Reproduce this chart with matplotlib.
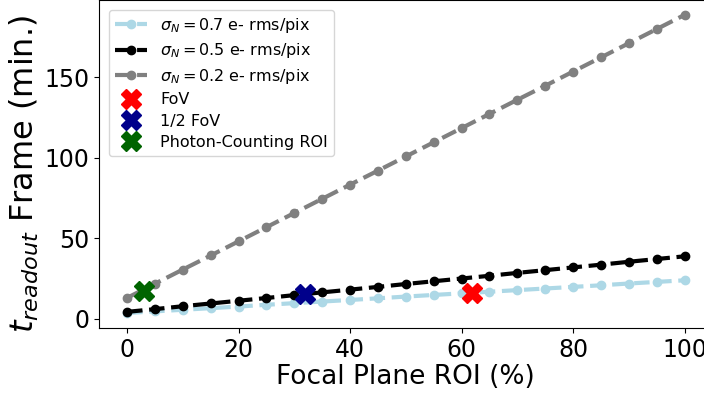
import numpy as np
import matplotlib
matplotlib.use("Agg")
import matplotlib.pyplot as plt

# Focal plane ROI (%) and readout time per frame (min.)
roi = [0, 5, 10, 15, 20, 25, 30, 35, 40, 45, 50, 55, 60, 65, 70, 75, 80, 85, 90, 95, 100]
t_07 = [3.5, 4.5, 5.5, 6.5, 7.5, 8.6, 9.6, 10.6, 11.6, 12.6, 13.7, 14.7, 15.7, 16.7, 17.7,
        18.7, 19.7, 20.7, 21.8, 22.8, 23.8]
t_05 = [4.2, 5.9, 7.7, 9.4, 11.1, 12.8, 14.6, 16.3, 18.0, 19.7, 21.5, 23.2, 24.9, 26.6, 28.4,
        30.1, 31.8, 33.5, 35.3, 37.0, 38.7]
t_02 = [12.9, 21.7, 30.5, 39.2, 48.0, 56.8, 65.6, 74.4, 83.2, 91.9, 100.7, 109.5, 118.3,
        127.1, 135.9, 144.6, 153.4, 162.2, 171.0, 179.8, 188.6]

# highlighted operating points
fov = (61.8, 16.0)
half_fov = (31.9, 15.3)
pc_roi = (3.1, 17.4)

fig = plt.figure(figsize=(7.04, 3.96), dpi=100)
ax = fig.add_axes([0.141, 0.172, 0.871, 0.828])

ax.plot(roi, t_07, "--o", color="lightblue", lw=3, ms=6, label=r"$\sigma_N = 0.7$ e- rms/pix")
ax.plot(roi, t_05, "--o", color="black", lw=3, ms=6, label=r"$\sigma_N = 0.5$ e- rms/pix")
ax.plot(roi, t_02, "--o", color="grey", lw=3, ms=6, label=r"$\sigma_N = 0.2$ e- rms/pix")

ax.plot(*fov, "X", color="red", ms=15, ls="none", label="FoV")
ax.plot(*half_fov, "X", color="darkblue", ms=15, ls="none", label="1/2 FoV")
ax.plot(*pc_roi, "X", color="darkgreen", ms=15, ls="none", label="Photon-Counting ROI")

ax.set_xlabel("Focal Plane ROI (%)", fontsize=19, labelpad=2)
ax.set_ylabel(r"$t_{readout}$ Frame (min.)", fontsize=23)
ax.yaxis.set_label_coords(-0.095, 0.47)
ax.tick_params(labelsize=17)
ax.legend(loc="upper left", fontsize=11.5, labelspacing=0.4, borderaxespad=0.6)

fig.savefig("out.png", dpi=100)
